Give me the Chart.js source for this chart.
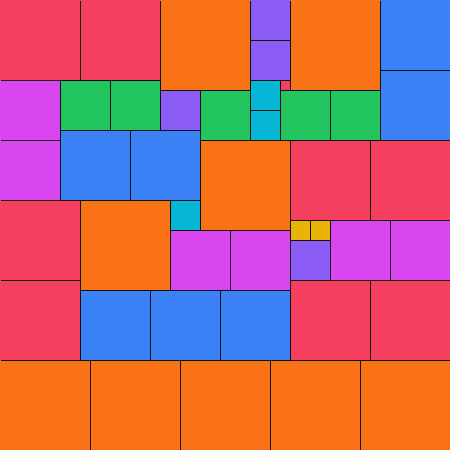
<!DOCTYPE html>
<html>
<head>
<meta charset="utf-8">
<script src="https://cdn.jsdelivr.net/npm/chart.js@4"></script>
<style>
  html, body { margin: 0; padding: 0; background: #fff; }
  #wrap { width: 450px; height: 450px; }
</style>
</head>
<body>
<div id="wrap"><canvas id="myChart" width="450" height="450"></canvas></div>
<script>
// Square packing: left, top, side (data units 0..450), colour
var xs    = [0, 80, 160, 250, 250, 290, 380, 380, 280, 250, 250, 0, 60, 110, 160, 200, 280, 330,
             0, 60, 130, 200, 290, 370, 0, 80, 170, 170, 230, 290, 310, 290, 330, 390,
             0, 80, 150, 220, 290, 370, 0, 90, 180, 270, 360];
var ys    = [0, 0, 0, 0, 40, 0, 0, 70, 80, 80, 110, 80, 80, 80, 90, 90, 90, 90,
             140, 130, 130, 140, 140, 140, 200, 200, 200, 230, 230, 220, 220, 240, 220, 220,
             280, 290, 290, 290, 280, 280, 360, 360, 360, 360, 360];
var sizes = [80, 80, 90, 40, 40, 90, 70, 70, 10, 30, 30, 60, 50, 50, 40, 50, 50, 50,
             60, 70, 70, 90, 80, 80, 80, 90, 30, 60, 60, 20, 20, 40, 60, 60,
             80, 70, 70, 70, 80, 80, 90, 90, 90, 90, 90];
var colors = ['red', 'red', 'orange', 'purple', 'purple', 'orange', 'blue', 'blue', 'red', 'cyan', 'cyan',
              'magenta', 'green', 'green', 'purple', 'green', 'green', 'green',
              'magenta', 'blue', 'blue', 'orange', 'red', 'red', 'red', 'orange', 'cyan', 'magenta', 'magenta',
              'yellow', 'yellow', 'purple', 'magenta', 'magenta',
              'red', 'blue', 'blue', 'blue', 'red', 'red', 'orange', 'orange', 'orange', 'orange', 'orange'];

var palette = {
    red: '#f43f5e', orange: '#f97316', purple: '#8b5cf6', blue: '#3b82f6',
    cyan: '#06b6d4', magenta: '#d946ef', green: '#22c55e', yellow: '#eab308'
};

var points = xs.map(function (x, i) {
    return { x: x, y: ys[i], s: sizes[i], c: colors[i] };
});

// draws each square through the chart scales
var squaresPlugin = {
    id: 'squares',
    afterDatasetsDraw: function (chart) {
        var ctx = chart.ctx;
        var sx = chart.scales.x, sy = chart.scales.y;
        var area = chart.chartArea;
        var data = chart.data.datasets[0].data;
        ctx.save();
        data.forEach(function (p) {
            var x0 = sx.getPixelForValue(p.x), x1 = sx.getPixelForValue(p.x + p.s);
            var y0 = sy.getPixelForValue(p.y), y1 = sy.getPixelForValue(p.y + p.s);
            ctx.fillStyle = palette[p.c];
            ctx.fillRect(x0, y0, x1 - x0, y1 - y0);
        });
        ctx.beginPath();
        ctx.rect(area.left + 1, area.top + 1, area.right - area.left - 1, area.bottom - area.top - 1);
        ctx.clip();
        ctx.strokeStyle = '#111';
        ctx.lineWidth = 1;
        data.forEach(function (p) {
            var x0 = Math.round(sx.getPixelForValue(p.x)) + 0.5, x1 = Math.round(sx.getPixelForValue(p.x + p.s)) + 0.5;
            var y0 = Math.round(sy.getPixelForValue(p.y)) + 0.5, y1 = Math.round(sy.getPixelForValue(p.y + p.s)) + 0.5;
            ctx.strokeRect(x0, y0, x1 - x0, y1 - y0);
        });
        ctx.restore();
    }
};

var ctx = document.getElementById('myChart').getContext('2d');
var myChart = new Chart(ctx, {
    type: 'scatter',
    data: {
        datasets: [{
            label: 'squares',
            data: points,
            pointRadius: 0,
            pointHoverRadius: 0
        }]
    },
    options: {
        responsive: false,
        animation: false,
        layout: { padding: 0 },
        plugins: { legend: { display: false }, tooltip: { enabled: false } },
        scales: {
            x: { type: 'linear', min: 0, max: 450, display: false },
            y: { type: 'linear', min: 0, max: 450, reverse: true, display: false }
        }
    },
    plugins: [squaresPlugin]
});
</script>
</body>
</html>
